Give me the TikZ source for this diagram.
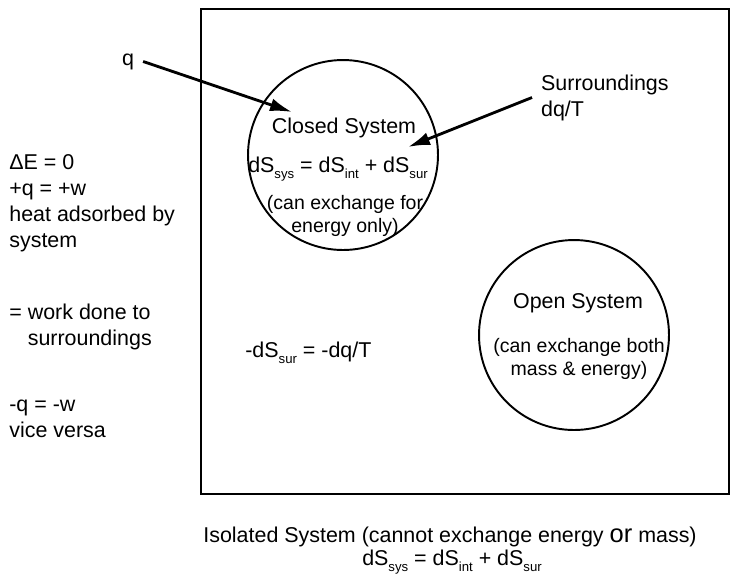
\documentclass[tikz,border=0pt]{standalone}
\usepackage{fontspec}
\setmainfont{Liberation Sans}
\usetikzlibrary{arrows.meta}

\newcommand{\lowsub}[1]{\raisebox{-3.5pt}{\fontsize{7.5}{8}\selectfont #1}}

\begin{document}
\begin{tikzpicture}[x=0.02cm, y=-0.02cm,
  txt/.style = {font=\fontsize{12.2}{14.75}\selectfont, inner sep=0pt, align=left},
  small/.style = {font=\fontsize{11.1}{12.6}\selectfont, inner sep=0pt, align=center},
  system/.style = {draw, circle, line width=1.1pt, minimum size=3.8cm, inner sep=0pt},
  line/.style = {line width=1.6pt, -{Latex[length=4.4mm, width=2.6mm]}}
]
\useasboundingbox (0,0) rectangle (732,583);

% Isolated system
\draw[line width=1.6pt] (201,9) rectangle (729,494);

% Systems (base of multi-line nodes = last line)
\node[system] (closed) at (343,155) {};
\node[system] (open) at (574,335) {};

\node[txt, anchor=base] (closedname) at (344,133) {Closed System};
\node[txt, anchor=base] (closedeq) at (338,172) {dS\lowsub{sys} = dS\lowsub{int} + dS\lowsub{sur}};
\node[small, anchor=base] (closednote) at (345,232) {(can exchange for\\energy only)};
\node[txt, anchor=base] (openname) at (578,308) {Open System};
\node[small, anchor=base] (opennote) at (579,375) {(can exchange both\\mass \& energy)};
\node[txt, anchor=base west] (surdq) at (245,357) {-dS\lowsub{sur} = -dq/T};

% Left side
\node[txt, anchor=base west] (energy) at (9,247) {ΔE = 0\\+q = +w\\heat adsorbed by\\system};
\node[txt, anchor=base west] (work) at (9,345) {= work done to\\\phantom{=} surroundings};
\node[txt, anchor=base west] (vice) at (9,437) {-q = -w\\vice versa};

% Heat flow
\node[txt, anchor=base, inner xsep=5pt] (q) at (128,65) {q};
\node[txt, anchor=base west, inner xsep=5pt] (surr) at (532,116) {Surroundings\\dq/T};
\coordinate (qtip) at (292,112);
\coordinate (surrtip) at (408,147);
\draw[line] (q.east) -- (qtip);
\draw[line] (surr.west) -- (surrtip);

% Isolated system label
\node[txt, anchor=base] (isolated) at (450,542) {Isolated System (cannot exchange energy {\fontsize{14.5}{15}\selectfont or} mass)};
\node[txt, anchor=base] (isoeq) at (452,565) {dS\lowsub{sys} = dS\lowsub{int} + dS\lowsub{sur}};

\end{tikzpicture}
\end{document}
